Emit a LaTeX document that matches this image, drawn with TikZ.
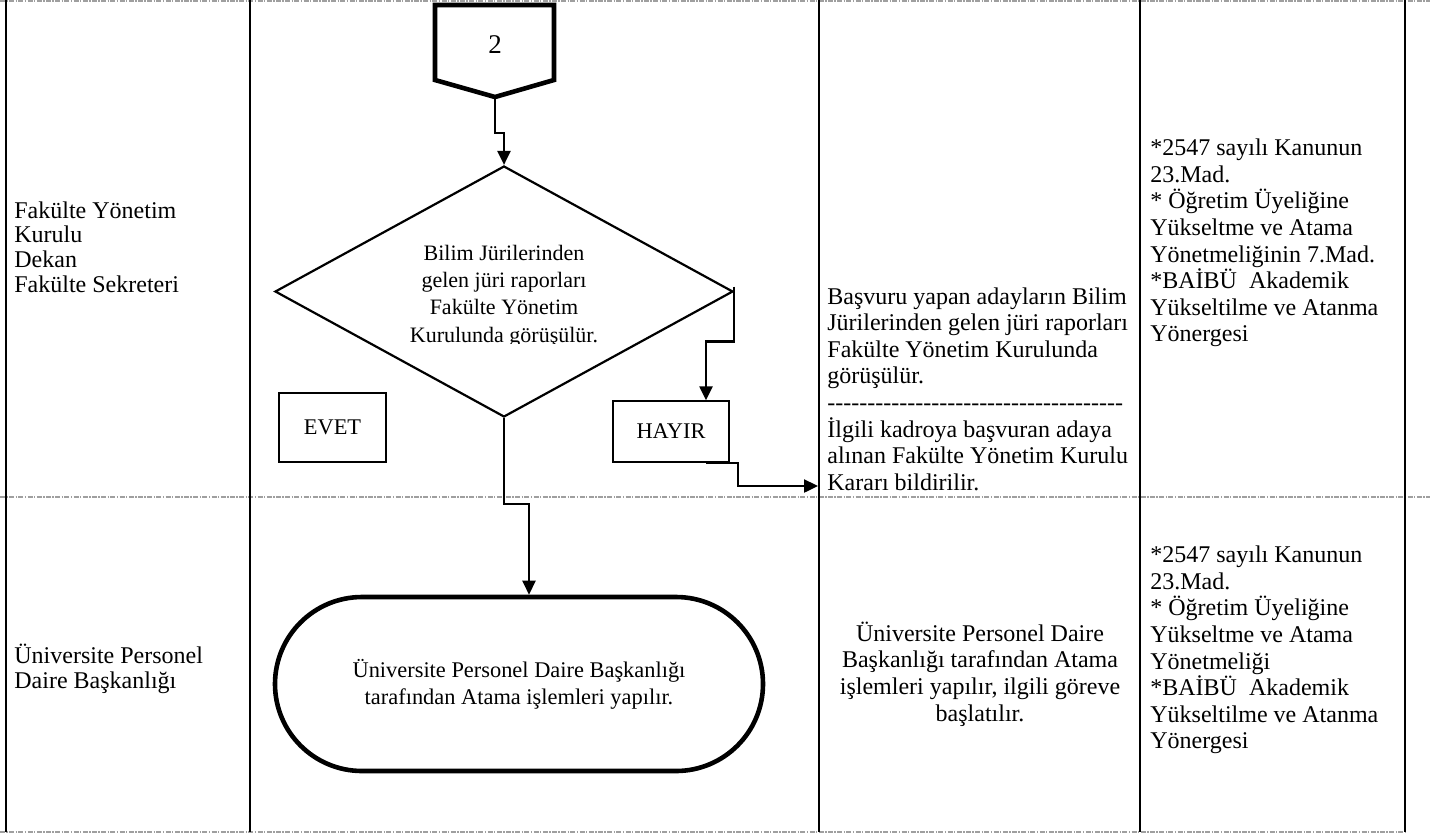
\documentclass[tikz,border=0pt]{standalone}
\usepackage{fontspec}
\setmainfont{Liberation Serif}
\usetikzlibrary{arrows.meta,shapes.geometric,shapes.misc,calc}
\newcommand{\hyphenrow}{-{}-{}-{}-{}-{}-{}-{}-{}-{}-{}-{}-{}-{}-{}-{}-{}-{}-{}-{}-{}-{}-{}-{}-{}-{}-{}-{}-{}-{}-{}-{}-{}-{}-{}-{}-{}-{}}
\begin{document}
\begin{tikzpicture}[x=0.5pt,y=-0.5pt,
  txt/.style={inner sep=0pt, font=\fontsize{12pt}{13.3pt}\selectfont},
  lefttxt/.style={inner sep=0pt, font=\fontsize{12pt}{12.3pt}\selectfont},
  boxtxt/.style={inner sep=0pt, font=\fontsize{11pt}{13.6pt}\selectfont},
  gridline/.style={line width=1.3pt},
  sepline/.style={gray!75, line width=0.7pt, dash pattern=on 2.5pt off 0.7pt on 0.7pt off 0.7pt},
  conn/.style={line width=1.2pt, -{Triangle[width=6.5pt,length=7pt]}},
  lblbox/.style={draw, line width=0.7pt, inner sep=0pt, font=\fontsize{11.2pt}{12pt}\selectfont},
]
\useasboundingbox (0,0) rectangle (1430,837);

% table
\draw[sepline] (0,1) -- (1430,1);
\draw[sepline] (0,497) -- (1430,497);
\draw[sepline] (0,832) -- (1405,832);
\foreach \x in {6,250,819,1140,1405} \draw[gridline] (\x,0) -- (\x,832);

% off-page connector
\draw[line width=2.3pt, line join=miter] (435,5) -- (554,5) -- (554,80) -- (495,97) -- (435,80) -- cycle;
\node[inner sep=0pt, font=\fontsize{13.5pt}{14pt}\selectfont] (p2) at (495,45) {2};
\coordinate (ptip) at (495,97);

% decision
\node[diamond, draw, line width=1.1pt, minimum width=229pt, minimum height=125.5pt, inner sep=0pt] (dec) at (504,291.5) {};
\begin{scope}
\clip (300,220) rectangle (710,343);
\node[boxtxt, align=center] (dtext) at (504,296) {Bilim Jürilerinden\\gelen jüri raporları\\Fakülte Yönetim\\Kurulunda görüşülür.};
\end{scope}

\node[lblbox, minimum width=53.5pt, minimum height=34.5pt] (evet) at (332.5,427.5) {EVET};
\node[lblbox, minimum width=58pt, minimum height=30.5pt] (hayir) at (671,431.5) {HAYIR};

% terminator
\node[rounded rectangle, draw, line width=2.3pt, minimum width=244pt, minimum height=87pt, inner sep=0pt, font=\fontsize{11.2pt}{13.6pt}\selectfont, align=center] (ov) at (519,684) {Üniversite Personel Daire Başkanlığı\\tarafından Atama işlemleri yapılır.};

% connectors
\draw[conn] (ptip) -- ++(0,36) -| (dec.north);
\draw[conn] ([yshift=2.5pt]dec.east) -- ++(0,55) -| ([xshift=17.5pt]hayir.north);
\coordinate (c3) at (818,486);
\draw[conn] ([xshift=17.5pt]hayir.south) -- ++(32,0) |- (c3);
\draw[conn] (dec.south) -- ++(0,86) -| ([xshift=5pt]ov.north);

% cell texts
\node[lefttxt, anchor=west, align=left] (r1) at (14,247) {Fakülte Yönetim\\Kurulu\\Dekan\\Fakülte Sekreteri};
\node[lefttxt, anchor=west, align=left] (r2) at (14,669) {Üniversite Personel\\Daire Başkanlığı};
\node[txt, anchor=west, align=left] (d1) at (827,389) {Başvuru yapan adayların Bilim\\Jürilerinden gelen jüri raporları\\Fakülte Yönetim Kurulunda\\görüşülür.\\\hyphenrow\\İlgili kadroya başvuran adaya\\alınan Fakülte Yönetim Kurulu\\Kararı bildirilir.};
\node[txt, align=center] (d2) at (980,674) {Üniversite Personel Daire\\Başkanlığı tarafından Atama\\işlemleri yapılır, ilgili göreve\\başlatılır.};
\node[txt, anchor=west, align=left] (m1) at (1150,243) {*2547 sayılı Kanunun\\23.Mad.\\* Öğretim Üyeliğine\\Yükseltme ve Atama\\Yönetmeliğinin 7.Mad.\\*BAİBÜ\ \ Akademik\\Yükseltilme ve Atanma\\Yönergesi};
\node[txt, anchor=west, align=left] (m2) at (1150,650) {*2547 sayılı Kanunun\\23.Mad.\\* Öğretim Üyeliğine\\Yükseltme ve Atama\\Yönetmeliği\\*BAİBÜ\ \ Akademik\\Yükseltilme ve Atanma\\Yönergesi};
\end{tikzpicture}
\end{document}
